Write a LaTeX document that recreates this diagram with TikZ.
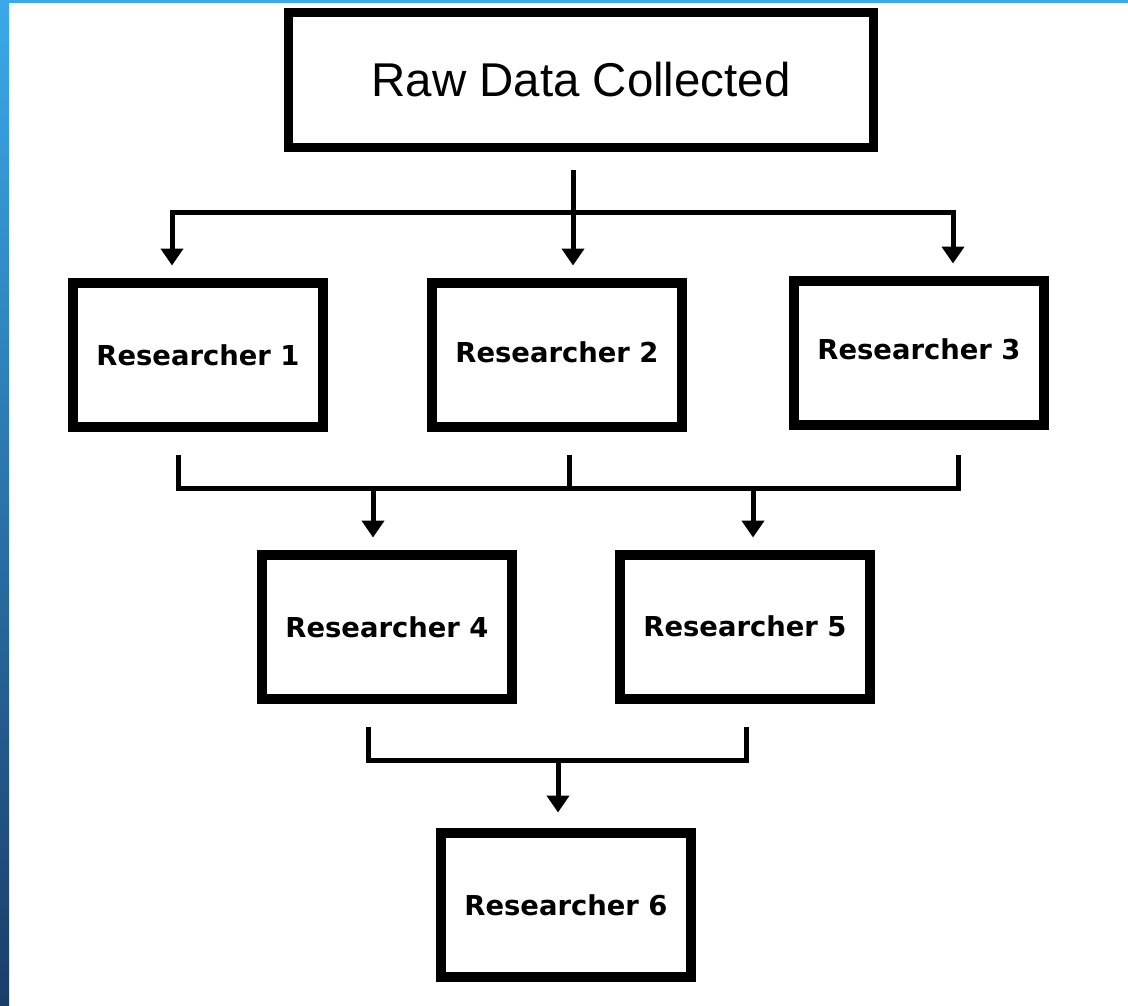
\documentclass[tikz,border=0pt]{standalone}
\usepackage{fontspec}
\setmainfont{DejaVu Sans}
\newfontfamily\rawfont{Liberation Sans}
\usetikzlibrary{positioning,arrows.meta}
\definecolor{BarTop}{HTML}{3AA9E9}
\definecolor{BarBottom}{HTML}{1B3D68}

\begin{document}
\begin{tikzpicture}[x=0.02cm,y=-0.02cm,>={Triangle[width=0.44cm,length=0.34cm]}]
  \tikzstyle{stage}=[draw,line width=0.2cm,minimum width=5.02cm,
    minimum height=2.9cm,inner sep=0pt,
    font=\bfseries\fontsize{15.6}{18}\selectfont]
  \tikzstyle{conn}=[line width=0.1cm]
  \useasboundingbox (0,0) rectangle (1128,1006);
  % slide frame
  \shade[top color=BarTop,bottom color=BarBottom] (0,0) rectangle (9,1006);
  \fill[BarTop] (0,0) rectangle (1128,3);
  % boxes
  \node[draw,line width=0.19cm,minimum width=11.7cm,minimum height=2.7cm,
    font=\rawfont\fontsize{27}{30}\selectfont] (raw) at (581,80) {Raw Data Collected};
  \node[stage] (r1) at (198,355) {Researcher 1};
  \node[stage] (r2) at (557,355) {\raisebox{0.1cm}{Researcher 2}};
  \node[stage] (r3) at (919,353) {\raisebox{0.15cm}{Researcher 3}};
  \node[stage] (r4) at (387,627) {Researcher 4};
  \node[stage] (r5) at (745,627) {\raisebox{0.05cm}{Researcher 5}};
  \node[stage] (r6) at (566,905) {Researcher 6};
  % junctions
  \coordinate (s0) at (573,170);
  \coordinate (s1) at (573,213);
  \coordinate (s1l) at (172,213);
  \coordinate (s1r) at (953,213);
  \coordinate (m1) at (178,455);
  \coordinate (m2) at (569,455);
  \coordinate (m3) at (958,455);
  \coordinate (j2) at (569,488);
  \coordinate (d4) at (373,488);
  \coordinate (d5) at (753,488);
  \coordinate (n4) at (368,727);
  \coordinate (n5) at (746,727);
  \coordinate (j3) at (558,760);
  % top split
  \draw[conn] (s0) -- (s1);
  \draw[conn,->,shorten >=0.24cm] (s1) -- (s1l) -- (s1l |- r1.north);
  \draw[conn,->,shorten >=0.24cm] (s1) -- (s1r) -- (s1r |- r3.north);
  \draw[conn,->,shorten >=0.24cm] (s1) -- (s1 |- r2.north);
  % middle merge
  \draw[conn] (m1) -- (m1 |- j2) -- (m3 |- j2) -- (m3);
  \draw[conn] (m2) -- (j2);
  \draw[conn,->,shorten >=0.24cm] (d4) -- (d4 |- r4.north);
  \draw[conn,->,shorten >=0.24cm] (d5) -- (d5 |- r5.north);
  % bottom merge
  \draw[conn] (n4) -- (n4 |- j3) -- (n5 |- j3) -- (n5);
  \draw[conn,->,shorten >=0.3cm] (j3) -- (j3 |- r6.north);
\end{tikzpicture}
\end{document}
